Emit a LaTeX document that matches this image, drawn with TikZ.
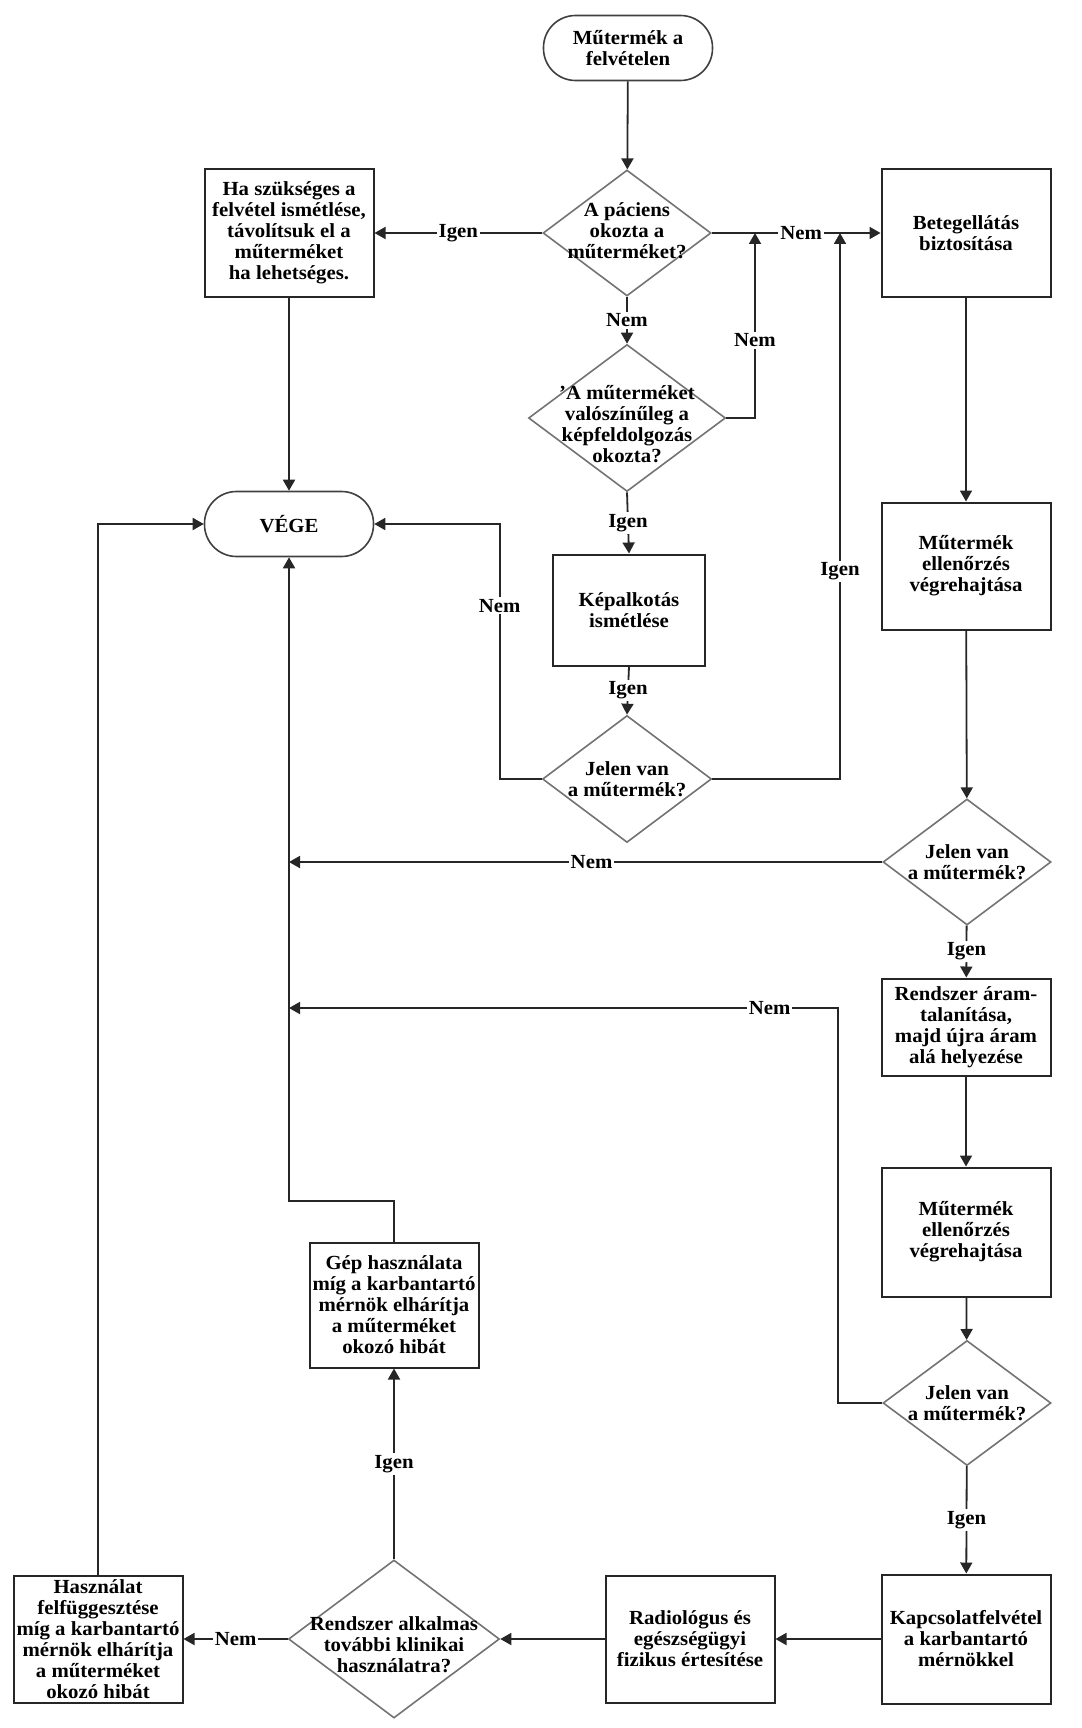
\documentclass[tikz,border=0pt]{standalone}
\usepackage{fontspec}
\setmainfont{Liberation Serif}[FakeStretch=1.04]
\usetikzlibrary{arrows.meta,shapes.geometric}

\begin{document}
\begin{tikzpicture}[
    x=1pt, y=-1pt,
    every node/.style={font=\fontsize{20}{21}\selectfont\bfseries, align=center},
    block/.style={draw=black!85, line width=2pt, minimum width=169pt, minimum height=127pt, inner sep=2pt},
    terminal/.style={draw=black!75, line width=1.6pt, rounded corners=32pt, minimum width=169pt, minimum height=65pt},
    decision/.style={diamond, draw=black!55, line width=1.6pt, inner sep=0pt, minimum width=168pt, minimum height=126pt},
    arrow/.style={-{Triangle[length=11pt,width=12pt]}, line width=1.8pt, draw=black!85},
    answer/.style={fill=white, inner sep=2pt}
]
\useasboundingbox (0,0) rectangle (1081,1728);

% top part
\node[terminal] (start) at (628,48) {Műtermék a\\felvételen};
\node[decision] (d1) at (627,233) {};
\node (d1txt) at (627,231) {A páciens\\okozta a\\műterméket?};
\node[block] (b1) at (289,233) {Ha szükséges a\\felvétel ismétlése,\\távolítsuk el a\\műterméket\\ha lehetséges.};
\node[block] (b2) at (966,233) {Betegellátás\\biztosítása};
\node[decision, minimum width=197pt, minimum height=147pt] (d2) at (627,418) {};
\node (d2txt) at (627,424) {'A műterméket\\valószínűleg a\\képfeldolgozás\\okozta?};
\node[terminal] (vege) at (289,524) {VÉGE};
\node[block, minimum width=152pt, minimum height=111pt] (b3) at (629,610) {Képalkotás\\ismétlése};
\node[decision, minimum width=169pt, minimum height=127pt] (d3) at (627,779) {};
\node (d3txt) at (627,779) {Jelen van\\a műtermék?};

% right column
\node[block] (b4) at (966,566) {Műtermék\\ellenőrzés\\végrehajtása};
\node[decision] (d4) at (967,862) {};
\node (d4txt) at (967,862) {Jelen van\\a műtermék?};
\node[block, minimum height=97pt] (b5) at (966,1027) {Rendszer áram-\\talanítása,\\majd újra áram\\alá helyezése};
\node[block, minimum height=129pt] (b6) at (966,1232) {Műtermék\\ellenőrzés\\végrehajtása};
\node[decision, minimum height=125pt] (d5) at (967,1403) {};
\node (d5txt) at (967,1403) {Jelen van\\a műtermék?};
\node[block, minimum height=129pt] (b7) at (966,1639) {Kapcsolatfelvétel\\a karbantartó\\mérnökkel};

% bottom part
\node[block] (b8) at (690,1639) {Radiológus és\\egészségügyi\\fizikus értesítése};
\node[decision, minimum width=211pt, minimum height=158pt] (d6) at (394,1639) {};
\node (d6txt) at (394,1645) {Rendszer alkalmas\\további klinikai\\használatra?};
\node[block, minimum height=125pt] (gep) at (394,1305) {Gép használata\\míg a karbantartó\\mérnök elhárítja\\a műterméket\\okozó hibát};
\node[block, inner sep=0pt] (hasz) at (98,1639) {Használat\\felfüggesztése\\míg a karbantartó\\mérnök elhárítja\\a műterméket\\okozó hibát};

\coordinate (j1) at (755,233);
\coordinate (j2) at (840,233);
\coordinate (k1) at (289,1008);
\coordinate (k2) at (289,1201);

\draw[arrow] (start) -- (d1);
\draw[arrow] (d1.west) -- node[answer]{Igen} (b1.east);
\draw[arrow] (d1.east) -- node[answer, pos=0.53]{Nem} (b2.west);
\draw[arrow] (d1.south) -- node[answer]{Nem} (d2.north);
\draw[arrow] (d2.east) -| node[answer, pos=0.71]{Nem} (j1);
\draw[arrow] (d2.south) -- node[answer]{Igen} (b3.north);
\draw[arrow] (b3.south) -- node[answer]{Igen} (d3.north);
\draw[arrow] (d3.west) -- ++(-42,0) |- node[answer, pos=0.34]{Nem} (vege.east);
\draw[arrow] (d3.east) -| node[answer, pos=0.69]{Igen} (j2);
\draw[arrow] (b1) -- (vege);

\draw[arrow] (b2) -- (b4);
\draw[arrow] (b4) -- (d4);
\draw[arrow] (d4.west) -- node[answer, pos=0.49]{Nem} (d4.west -| vege.south);
\draw[arrow] (d4) -- node[answer]{Igen} (b5);
\draw[arrow] (b5) -- (b6);
\draw[arrow] (b6) -- (d5);
\draw[arrow] (d5.west) -- ++(-44,0) |- node[answer, pos=0.5625]{Nem} (k1);
\draw[arrow] (d5) -- node[answer]{Igen} (b7);

\draw[arrow] (b7) -- (b8);
\draw[arrow] (b8) -- (d6);
\draw[arrow] (d6) -- node[answer]{Nem} (hasz);
\draw[arrow] (d6) -- node[answer]{Igen} (gep);
\draw[arrow] (gep.north) |- (k2) -- (vege.south);
\draw[arrow] (hasz.north) |- (vege.west);

\end{tikzpicture}
\end{document}
